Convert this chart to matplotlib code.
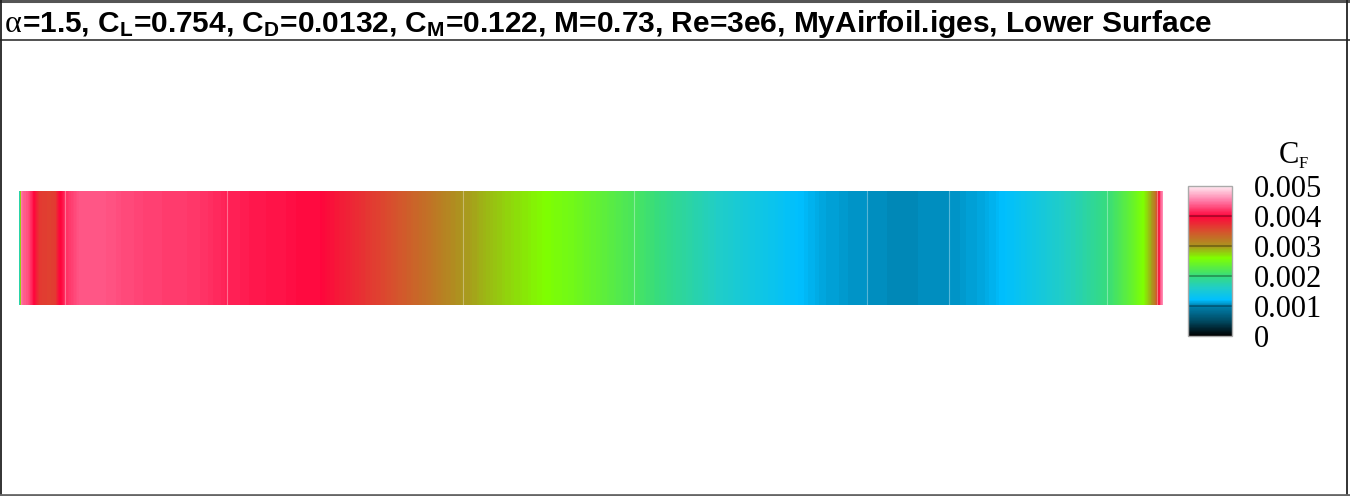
"""Lower-surface skin friction strip (Tecplot style) for MyAirfoil.iges.

Saves out.png.
"""
import matplotlib

matplotlib.use("Agg")
import matplotlib.pyplot as plt
import numpy as np
from matplotlib.cm import ScalarMappable
from matplotlib.colors import LinearSegmentedColormap, Normalize

W, H = 1350, 496

# C_F along the lower surface, position across the strip (0 = LE, 1 = TE)
x_c = [0.000, 0.001, 0.002, 0.0035, 0.008, 0.011, 0.013, 0.016, 0.018, 0.027,
       0.032, 0.035, 0.038, 0.040, 0.053, 0.071, 0.097, 0.123, 0.158, 0.182,
       0.211, 0.246, 0.263, 0.281, 0.307, 0.333, 0.359, 0.388, 0.420, 0.460,
       0.490, 0.538, 0.578, 0.613, 0.648, 0.683, 0.709, 0.741, 0.770, 0.813,
       0.840, 0.860, 0.892, 0.923, 0.951, 0.971, 0.983, 0.989, 0.993, 0.996,
       0.998, 1.000]
cf = [0.00160, 0.00200, 0.00450, 0.00440, 0.00430, 0.00415, 0.00400, 0.00380,
      0.00365, 0.00360, 0.00365, 0.00395, 0.00405, 0.00415, 0.00435, 0.00435,
      0.00428, 0.00424, 0.00420, 0.00412, 0.00407, 0.00402, 0.00400, 0.00385,
      0.00365, 0.00345, 0.00325, 0.00300, 0.00280, 0.00260, 0.00245, 0.00215,
      0.00185, 0.00160, 0.00140, 0.00120, 0.00110, 0.00105, 0.00103, 0.00105,
      0.00112, 0.00120, 0.00145, 0.00170, 0.00200, 0.00235, 0.00260, 0.00290,
      0.00320, 0.00380, 0.00440, 0.00460]
block_edges = [0.040, 0.182, 0.388, 0.538, 0.741, 0.813, 0.951, 0.995]

cf_ticks = [0.0, 0.001, 0.002, 0.003, 0.004, 0.005]
cf_tick_labels = ["0", "0.001", "0.002", "0.003", "0.004", "0.005"]

title = (r"=1.5, C$_{L}$=0.754, C$_{D}$=0.0132, C$_{M}$=0.122, M=0.73, "
         r"Re=3e6, MyAirfoil.iges, Lower Surface")

# colour map
cmap = LinearSegmentedColormap.from_list(
    "cf_map",
    [
        (0.00, "#000000"),
        (0.10, "#004b64"),
        (0.20, "#0082af"),
        (0.24, "#00bfff"),
        (0.32, "#20cdc8"),
        (0.40, "#37dc7d"),
        (0.52, "#7fff00"),
        (0.60, "#aa961e"),
        (0.70, "#d7502d"),
        (0.80, "#ff053c"),
        (0.90, "#ff78a5"),
        (1.00, "#ffebf2"),
    ],
)
norm = Normalize(0.0, 0.005)

plt.rcParams.update({
    "mathtext.fontset": "custom",
    "mathtext.rm": "Liberation Sans:bold",
    "mathtext.bf": "Liberation Sans:bold",
    "mathtext.default": "rm",
})

fig = plt.figure(figsize=(W / 100, H / 100), dpi=100)


def px_axes(x0, y0, x1, y1):
    return fig.add_axes([x0 / W, 1 - y1 / H, (x1 - x0) / W, (y1 - y0) / H])


# frame and title strip
frame = px_axes(0, 0, W, H)
frame.set_xlim(0, W)
frame.set_ylim(H, 0)
frame.axis("off")
frame.plot([0, W], [1, 1], color="#555555", lw=2.2)
frame.plot([0, W], [39.5, 39.5], color="#333333", lw=1.2)
frame.plot([1, 1], [0, 494], color="#222222", lw=1.3)
frame.plot([1346.5, 1346.5], [0, 494], color="#222222", lw=1.3)
frame.plot([0, W], [494.5, 494.5], color="#666666", lw=2.0)

alpha_txt = frame.text(5, 32, "α", fontsize=23, family="Liberation Serif",
                       ha="left", va="baseline", color="black")
fig.canvas.draw()
bb = alpha_txt.get_window_extent()
frame.text(5 + bb.width, 32, title, fontsize=21.5, family="Liberation Sans",
           fontweight="bold", ha="left", va="baseline", color="black")

# surface strip
ax = px_axes(19, 191, 1163, 305)
xx = np.array(x_c)
zz = np.vstack([cf, cf])
ax.contourf(xx, [0, 1], zz, levels=np.linspace(0, 0.005, 401), cmap=cmap,
            norm=norm, antialiased=False, extend="both")
for e in block_edges:
    ax.axvline(e, color="white", alpha=0.35, lw=0.8)
ax.set_xlim(0, 1)
ax.set_ylim(0, 1)
ax.axis("off")

# legend bar
cax = px_axes(1188, 186, 1232, 336)
cb = fig.colorbar(ScalarMappable(norm=norm, cmap=cmap), cax=cax)
cb.outline.set_edgecolor("#aaaaaa")
cb.outline.set_linewidth(1.0)
for t in cf_ticks[1:-1]:
    cax.axhline(t, color="black", alpha=0.35, lw=1.2)
cax.yaxis.set_ticks_position("right")
cax.set_yticks(cf_ticks)
cax.set_yticklabels(cf_tick_labels, family="Liberation Serif", fontsize=22)
cax.tick_params(axis="y", length=0, pad=16)

frame.text(1279, 163, "C", fontsize=22, family="Liberation Serif",
           ha="left", va="baseline")
frame.text(1299, 168, "F", fontsize=12, family="Liberation Serif",
           ha="left", va="baseline")

fig.savefig("out.png", dpi=100)
